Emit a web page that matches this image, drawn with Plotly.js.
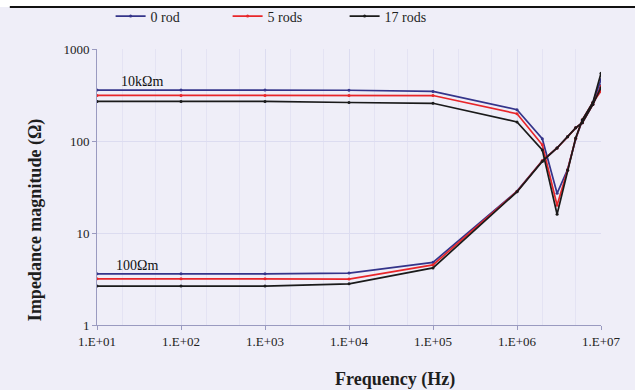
<!DOCTYPE html>
<html>
<head>
<meta charset="utf-8">
<script src="https://cdn.plot.ly/plotly-3.0.1.min.js"></script>
<style>html,body{margin:0;padding:0;background:#efeef8;}#chart{width:635px;height:390px;}</style>
</head>
<body>
<div id="chart"></div>
<script>
// Frequencies (Hz)
const freq = [10, 100, 1000, 1e4, 1e5, 1e6, 2e6, 3e6, 4e6, 5e6, 6e6, 8e6, 1e7];
// 10 kOhm·m soil
const high0rod  = [358, 358, 358, 356, 346, 219, 106, 27, 49, 105, 168, 262, 465];
const high5rods = [313, 313, 313, 312, 312, 198, 91, 20, 48, 107, 170, 262, 350];
const high17rods= [269, 269, 269, 262, 257, 161, 80, 16, 48, 108, 170, 262, 545];
// 100 Ohm·m soil
const low0rod   = [3.6, 3.6, 3.6, 3.67, 4.8, 28.5, 61, 84, 111, 139, 158, 250, 400];
const low5rods  = [3.18, 3.18, 3.18, 3.16, 4.5, 28.3, 61, 84, 111, 139, 158, 250, 390];
const low17rods = [2.65, 2.65, 2.65, 2.8, 4.17, 28, 60, 84, 111, 139, 158, 250, 380];

const seriesNames = ["0 rod", "5 rods", "17 rods"];
const xTickVals = [10, 100, 1000, 1e4, 1e5, 1e6, 1e7];
const xTickText = ["1.E+01", "1.E+02", "1.E+03", "1.E+04", "1.E+05", "1.E+06", "1.E+07"];
const yTickVals = [1, 10, 100, 1000];
const yTickText = ["1", "10", "100", "1000"];

const colors = ["#34348a", "#e8262a", "#1a1a1a"];
const highSets = [high0rod, high5rods, high17rods];
const lowSets = [low0rod, low5rods, low17rods];

const traces = [];
for (let i = 0; i < 3; i++) {
  traces.push({
    x: freq, y: highSets[i], type: "scatter", mode: "lines+markers",
    name: seriesNames[i], legendgroup: "g" + i, showlegend: true,
    line: {color: colors[i], width: 1.7}, marker: {color: colors[i], size: 3}
  });
  traces.push({
    x: freq, y: lowSets[i], type: "scatter", mode: "lines+markers",
    name: seriesNames[i], legendgroup: "g" + i, showlegend: false,
    line: {color: colors[i], width: 1.7}, marker: {color: colors[i], size: 3}
  });
}

const font = "Liberation Serif, Times New Roman, serif";
const layout = {
  width: 635, height: 390,
  margin: {l: 97, r: 34, t: 49, b: 65, autoexpand: false},
  paper_bgcolor: "#efeef8",
  plot_bgcolor: "#efeef8",
  font: {family: font, size: 13, color: "#1e1e1e"},
  showlegend: true,
  legend: {
    orientation: "h", x: 0.027, xanchor: "left", y: 1.118, yanchor: "middle",
    bgcolor: "rgba(0,0,0,0)", font: {family: font, size: 14, color: "#1e1e1e"},
    itemwidth: 30, entrywidth: 72, entrywidthmode: "pixels", traceorder: "normal"
  },
  xaxis: {
    type: "log", range: [1, 7],
    tickvals: xTickVals, ticktext: xTickText,
    tickfont: {family: font, size: 13, color: "#222"},
    showgrid: true, gridcolor: "#dcdcf0", gridwidth: 1,
    minor: {showgrid: true, gridcolor: "#e4e3f3", gridwidth: 1},
    showline: true, linecolor: "#9a9ac0", linewidth: 1,
    ticks: "outside", ticklen: 4, tickcolor: "#9a9ac0",
    zeroline: false
  },
  yaxis: {
    type: "log", range: [0, 3],
    tickvals: yTickVals, ticktext: yTickText,
    tickfont: {family: font, size: 13, color: "#222"},
    showgrid: true, gridcolor: "#dcdcf0", gridwidth: 1,
    showline: true, linecolor: "#9a9ac0", linewidth: 1,
    ticks: "outside", ticklen: 4, tickcolor: "#9a9ac0",
    zeroline: false
  },
  annotations: [
    {xref: "paper", yref: "paper", x: 0.591, y: -0.199, xanchor: "center", yanchor: "middle",
     text: "<b>Frequency (Hz)</b>", showarrow: false, font: {family: font, size: 18, color: "#1e1e1e"}},
    {xref: "paper", yref: "paper", x: -0.123, y: 0.38, xanchor: "center", yanchor: "middle", textangle: -90,
     text: "<b>Impedance magnitude (Ω)</b>", showarrow: false, font: {family: font, size: 18, color: "#1e1e1e"}},
    {xref: "paper", yref: "paper", x: 0.044, y: 0.884, xanchor: "left", yanchor: "middle",
     text: "10kΩm", showarrow: false, font: {family: font, size: 14, color: "#111"}},
    {xref: "paper", yref: "paper", x: 0.034, y: 0.214, xanchor: "left", yanchor: "middle",
     text: "100Ωm", showarrow: false, font: {family: font, size: 14, color: "#111"}}
  ],
  shapes: [
    {type: "rect", xref: "paper", yref: "paper", x0: -0.2, x1: 1.1, y0: 1.152, y1: 1.2,
     fillcolor: "#ffffff", line: {width: 0}, layer: "below"},
    {type: "line", xref: "paper", yref: "paper", x0: -0.173, x1: 1.07, y0: 1.152, y1: 1.152,
     line: {color: "#111", width: 2}}
  ]
};

Plotly.newPlot("chart", traces, layout, {displayModeBar: false, staticPlot: true});
</script>
</body>
</html>
